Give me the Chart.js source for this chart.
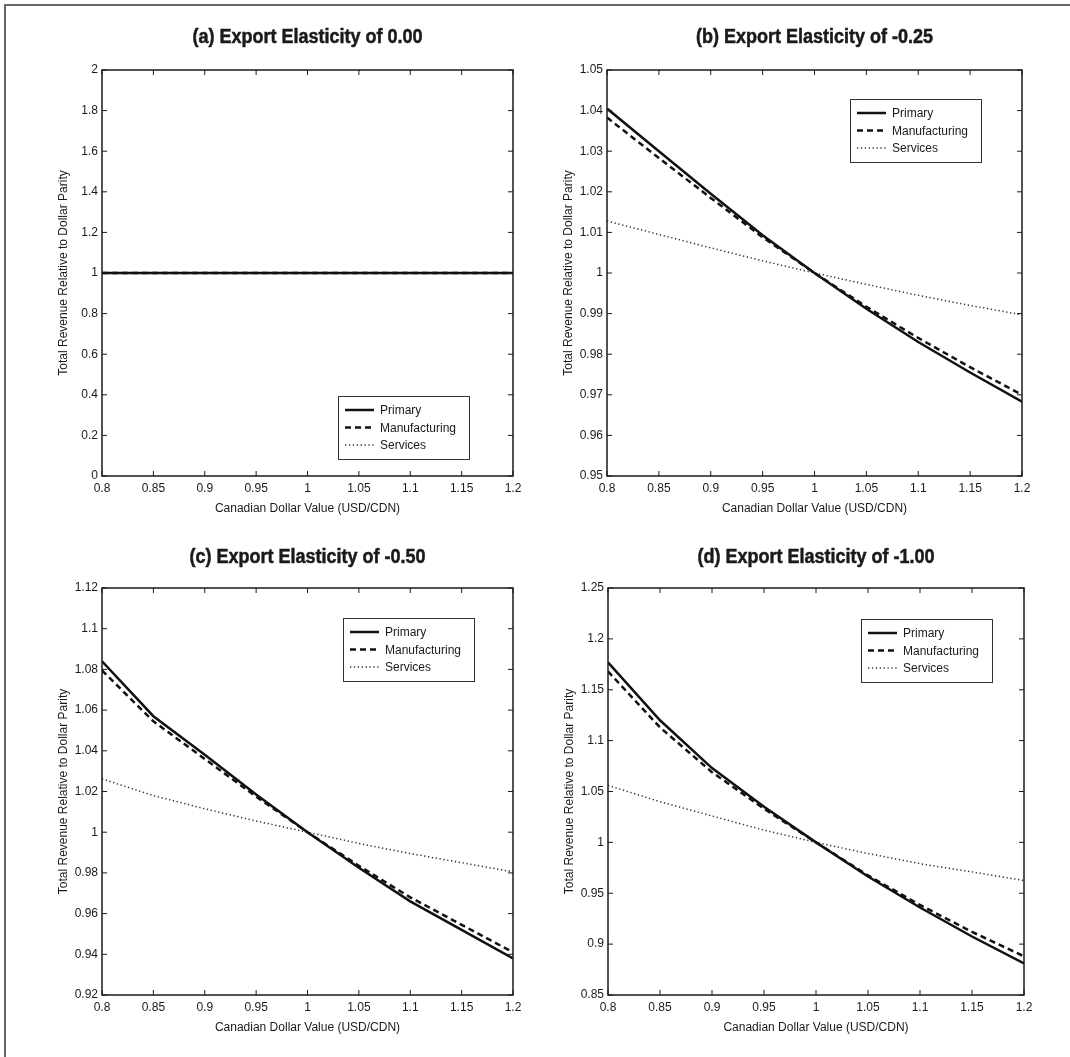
<!DOCTYPE html>
<html>
<head>
<meta charset="utf-8">
<script src="https://cdn.jsdelivr.net/npm/chart.js@4.4.1/dist/chart.umd.min.js"></script>
<style>
  html, body { margin: 0; padding: 0; background: #fff; }
  #page { position: relative; width: 1070px; height: 1057px; overflow: hidden; }
  #frame { position: absolute; left: 4px; top: 4px; right: -10px; bottom: -10px;
           border-top: 2px solid #666; border-left: 2px solid #666; }
  canvas { position: absolute; }
</style>
</head>
<body>
<div id="page">
  <div id="frame"></div>
  <canvas id="pa"></canvas>
  <canvas id="pb"></canvas>
  <canvas id="pc"></canvas>
  <canvas id="pd"></canvas>
</div>
<script>
// exchange rate grid (USD/CDN)
const rates = [0.80, 0.85, 0.90, 0.95, 1.00, 1.05, 1.10, 1.15, 1.20];
const seriesNames = ['Primary', 'Manufacturing', 'Services'];

// (a) elasticity 0.00
const primaryA = [1, 1, 1, 1, 1, 1, 1, 1, 1];
const manufA   = [1, 1, 1, 1, 1, 1, 1, 1, 1];
const servA    = [1, 1, 1, 1, 1, 1, 1, 1, 1];

// (b) elasticity -0.25
const primaryB = [1.0405, 1.0300, 1.0195, 1.0093, 1.0000, 0.9912, 0.9830, 0.9755, 0.9683];
const manufB   = [1.0383, 1.0283, 1.0185, 1.0088, 1.0000, 0.9917, 0.9840, 0.9768, 0.9700];
const servB    = [1.0128, 1.0095, 1.0062, 1.0030, 1.0000, 0.9972, 0.9945, 0.9920, 0.9897];

// (c) elasticity -0.50
const primaryC = [1.0840, 1.0570, 1.0380, 1.0185, 1.0000, 0.9825, 0.9660, 0.9520, 0.9380];
const manufC   = [1.0795, 1.0545, 1.0360, 1.0175, 1.0000, 0.9835, 0.9680, 0.9545, 0.9410];
const servC    = [1.0262, 1.0180, 1.0115, 1.0055, 1.0000, 0.9945, 0.9895, 0.9850, 0.9805];

// (d) elasticity -1.00
const primaryD = [1.1770, 1.1200, 1.0730, 1.0350, 1.0000, 0.9665, 0.9360, 0.9075, 0.8810];
const manufD   = [1.1680, 1.1130, 1.0690, 1.0330, 1.0000, 0.9675, 0.9385, 0.9120, 0.8880];
const servD    = [1.0560, 1.0400, 1.0260, 1.0120, 1.0000, 0.9890, 0.9790, 0.9710, 0.9625];

const titles = ['(a) Export Elasticity of 0.00', '(b) Export Elasticity of -0.25',
                '(c) Export Elasticity of -0.50', '(d) Export Elasticity of -1.00'];
const yRanges = [[0, 2, 0.2], [0.95, 1.05, 0.01], [0.92, 1.12, 0.02], [0.85, 1.25, 0.05]];

const xTitle = 'Canadian Dollar Value (USD/CDN)';
const yTitle = 'Total Revenue Relative to Dollar Parity';

const FONT = "'Liberation Sans', Arial, sans-serif";
const TEXT = '#1a1a1a';

// plot boxes on the page (l, t, r, b), title offset and legend box corner
const boxes = [
  {l: 102, t: 70,  r: 513,  b: 476, titleUp: 33, legX: 338, legY: 396},
  {l: 607, t: 70,  r: 1022, b: 476, titleUp: 33, legX: 850, legY: 99},
  {l: 102, t: 588, r: 513,  b: 995, titleUp: 31, legX: 343, legY: 618},
  {l: 608, t: 588, r: 1024, b: 995, titleUp: 31, legX: 861, legY: 619}
];
const PAD_L = 102, PAD_T = 70, PAD_R = 20, PAD_B = 52;

function fmt(v) { return String(+Number(v).toFixed(4)); }

// frame with inward ticks, panel title, y title and boxed legend
const matlabBox = {
  id: 'matlabBox',
  afterDatasetsDraw(chart, args, opts) {
    const ctx = chart.ctx, a = chart.chartArea;
    const x = chart.scales.x, y = chart.scales.y;
    const bx = opts.box;
    ctx.save();
    ctx.strokeStyle = TEXT;
    ctx.lineWidth = 1.5;
    ctx.strokeRect(a.left, a.top, a.right - a.left, a.bottom - a.top);
    ctx.lineWidth = 1;
    ctx.beginPath();
    x.ticks.forEach(t => {
      const px = x.getPixelForValue(t.value);
      ctx.moveTo(px, a.bottom); ctx.lineTo(px, a.bottom - 5);
      ctx.moveTo(px, a.top); ctx.lineTo(px, a.top + 5);
    });
    y.ticks.forEach(t => {
      const py = y.getPixelForValue(t.value);
      ctx.moveTo(a.left, py); ctx.lineTo(a.left + 5, py);
      ctx.moveTo(a.right, py); ctx.lineTo(a.right - 5, py);
    });
    ctx.stroke();

    // panel title, slightly condensed bold
    ctx.fillStyle = TEXT;
    ctx.strokeStyle = TEXT;
    ctx.textAlign = 'center';
    ctx.textBaseline = 'middle';
    ctx.save();
    ctx.translate((a.left + a.right) / 2, a.top - bx.titleUp);
    ctx.scale(0.9, 1);
    ctx.font = "bold 20px " + FONT;
    ctx.lineWidth = 0.5;
    ctx.fillText(opts.title, 0, 0);
    ctx.strokeText(opts.title, 0, 0);
    ctx.restore();

    // y axis title, rotated
    ctx.save();
    ctx.translate(a.left - 38, (a.top + a.bottom) / 2);
    ctx.rotate(-Math.PI / 2);
    ctx.font = '12px ' + FONT;
    ctx.fillText(yTitle, 0, 0);
    ctx.restore();

    // legend (page coords -> canvas coords)
    const lw = 131, lh = 63;
    const lx = bx.legX - (bx.l - PAD_L);
    const ly = bx.legY - (bx.t - PAD_T);
    ctx.fillStyle = '#fff';
    ctx.fillRect(lx, ly, lw, lh);
    ctx.strokeStyle = '#333';
    ctx.lineWidth = 1;
    ctx.strokeRect(lx + 0.5, ly + 0.5, lw, lh);
    ctx.font = '12px ' + FONT;
    ctx.textAlign = 'left';
    chart.data.datasets.forEach((ds, i) => {
      const ry = ly + 14 + i * 17.5;
      ctx.save();
      ctx.strokeStyle = ds.borderColor;
      ctx.lineWidth = ds.borderWidth;
      ctx.setLineDash(ds.borderDash || []);
      ctx.beginPath();
      ctx.moveTo(lx + 7, ry); ctx.lineTo(lx + 36, ry);
      ctx.stroke();
      ctx.restore();
      ctx.fillStyle = TEXT;
      ctx.fillText(ds.label, lx + 42, ry + 1);
    });
    ctx.restore();
  }
};

function makePanel(id, idx, prim, manuf, serv) {
  const bx = boxes[idx];
  const cv = document.getElementById(id);
  const w = (bx.r - bx.l) + PAD_L + PAD_R;
  const h = (bx.b - bx.t) + PAD_T + PAD_B;
  cv.style.left = (bx.l - PAD_L) + 'px';
  cv.style.top = (bx.t - PAD_T) + 'px';
  cv.style.width = w + 'px';
  cv.style.height = h + 'px';
  cv.width = w; cv.height = h;

  const toPts = arr => rates.map((r, i) => ({x: r, y: arr[i]}));
  const yr = yRanges[idx];

  return new Chart(cv, {
    type: 'line',
    data: {
      datasets: [
        {label: seriesNames[0], data: toPts(prim), borderColor: '#111', borderWidth: 2.5,
         pointRadius: 0, tension: 0},
        {label: seriesNames[1], data: toPts(manuf), borderColor: '#111', borderWidth: 2.5,
         borderDash: [6, 4], pointRadius: 0, tension: 0},
        {label: seriesNames[2], data: toPts(serv), borderColor: '#333', borderWidth: 1.5,
         borderDash: [1.3, 2.6], pointRadius: 0, tension: 0}
      ]
    },
    options: {
      responsive: false,
      animation: false,
      devicePixelRatio: 1,
      layout: {padding: {left: 54, top: PAD_T, right: PAD_R, bottom: 12}},
      plugins: {
        legend: {display: false},
        tooltip: {enabled: false},
        matlabBox: {title: titles[idx], box: bx}
      },
      scales: {
        x: {
          type: 'linear', min: 0.8, max: 1.2,
          grid: {display: false, drawTicks: false},
          border: {display: false},
          ticks: {stepSize: 0.05, padding: 5, color: TEXT, font: {family: FONT, size: 12},
                  maxRotation: 0, callback: fmt},
          title: {display: true, text: xTitle, color: TEXT, font: {family: FONT, size: 12},
                  padding: {top: 2, bottom: 0}},
          afterFit: s => { s.height = PAD_B - 12; }
        },
        y: {
          type: 'linear', min: yr[0], max: yr[1],
          grid: {display: false, drawTicks: false},
          border: {display: false},
          ticks: {stepSize: yr[2], padding: 4, color: TEXT, font: {family: FONT, size: 12},
                  callback: fmt},
          afterFit: s => { s.width = PAD_L - 54; }
        }
      }
    },
    plugins: [matlabBox]
  });
}

makePanel('pa', 0, primaryA, manufA, servA);
makePanel('pb', 1, primaryB, manufB, servB);
makePanel('pc', 2, primaryC, manufC, servC);
makePanel('pd', 3, primaryD, manufD, servD);
</script>
</body>
</html>
